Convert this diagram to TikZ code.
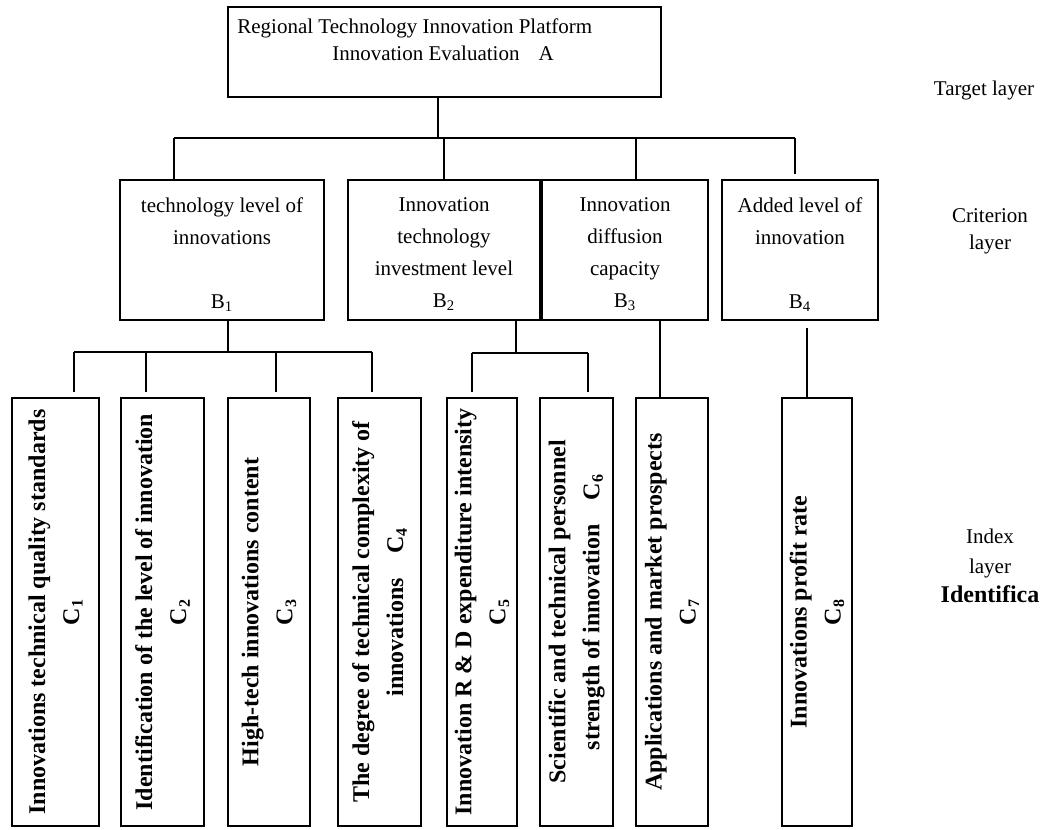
\documentclass[tikz,border=0pt]{standalone}
\usepackage{fontspec}
\setmainfont{Liberation Serif}
\begin{document}
\begin{tikzpicture}[x=0.5pt,y=-0.5pt,
  abox/.style={draw, line width=1pt, inner sep=0pt},
  bbox/.style={abox, minimum height=70pt},
  cbox/.style={abox, minimum height=214pt},
  txt/.style={font=\fontsize{10.5pt}{16pt}\selectfont, inner sep=0pt, align=center},
  lbl/.style={font=\fontsize{10.5pt}{13.5pt}\selectfont, inner sep=0pt, align=center},
  ctxt/.style={font=\fontsize{12pt}{17pt}\selectfont\bfseries, inner sep=0pt, align=center, rotate=90},
  lnk/.style={line width=0.9pt},
  gap/.style={lnk, shorten >=2.5pt}]
\useasboundingbox (0,0) rectangle (1050,830);

% target layer
\node[abox, minimum width=216.5pt, minimum height=45pt] (A) at (444.5,52) {};
\node[txt, anchor=base west] (a1) at (237,33) {Regional Technology Innovation Platform};
\node[txt, anchor=base] (a2) at (443,61) {Innovation Evaluation\hspace{9.5pt}A};

% criterion layer
\node[bbox, minimum width=102pt] (B1) at (222,250) {};
\node[bbox, minimum width=96pt]  (B2) at (444,250) {};
\node[bbox, minimum width=83pt]  (B3) at (625,250) {};
\node[bbox, minimum width=78pt]  (B4) at (800,250) {};
\node[txt, anchor=north] (b1t) at (222,197) {technology level of\\innovations\\[16pt]B\textsubscript{1}};
\node[txt, anchor=north] (b2t) at (444,197) {Innovation\\technology\\investment level\\B\textsubscript{2}};
\node[txt, anchor=north] (b3t) at (625,197) {Innovation\\diffusion\\capacity\\B\textsubscript{3}};
\node[txt, anchor=north] (b4t) at (800,197) {Added level of\\innovation\\[16pt]B\textsubscript{4}};

% index layer
\node[cbox, minimum width=43.5pt] (C1) at (55.5,612) {};
\node[cbox, minimum width=41.5pt] (C2) at (162.5,612) {};
\node[cbox, minimum width=41pt]   (C3) at (269,612) {};
\node[cbox, minimum width=41.5pt] (C4) at (379.5,612) {};
\node[cbox, minimum width=35pt]   (C5) at (482,612) {};
\node[cbox, minimum width=36.5pt] (C6) at (576.5,612) {};
\node[cbox, minimum width=36pt]   (C7) at (672,612) {};
\node[cbox, minimum width=35pt]   (C8) at (817,612) {};
\node[ctxt] (c1t) at (C1.center) {Innovations technical quality standards\\C\textsubscript{1}};
\node[ctxt] (c2t) at (C2.center) {Identification of the level of innovation\\C\textsubscript{2}};
\node[ctxt] (c3t) at (C3.center) {High-tech innovations content\\C\textsubscript{3}};
\node[ctxt] (c4t) at (C4.center) {The degree of technical complexity of\\innovations\hspace{1em}C\textsubscript{4}};
\node[ctxt] (c5t) at (C5.center) {Innovation R \& D expenditure intensity\\C\textsubscript{5}};
\node[ctxt] (c6t) at (C6.center) {Scientific and technical personnel\\strength of innovation\hspace{1em}C\textsubscript{6}};
\node[ctxt] (c7t) at (C7.center) {Applications and market prospects\\C\textsubscript{7}};
\node[ctxt] (c8t) at (C8.center) {Innovations profit rate\\C\textsubscript{8}};

% layer labels
\node[lbl, anchor=base] (tl) at (984,95) {Target layer};
\node[lbl, anchor=north] (cl) at (990,208) {Criterion\\layer};
\node[lbl, anchor=north, font=\fontsize{10.5pt}{14.75pt}\selectfont] (il) at (990,529)
  {Index\\layer\\{\bfseries\fontsize{12pt}{14.75pt}\selectfont Identifica}};

% connectors A -> B
\coordinate (ja) at (438,138);
\coordinate (h1l) at (174,138);
\coordinate (h1r) at (795,138);
\coordinate (hb2) at (444,138);
\coordinate (hb3) at (636,138);
\draw[lnk] (A.south -| ja) -- (ja);
\draw[lnk] (h1l) -- (h1r);
\draw[lnk] (h1l) -- (h1l |- B1.north);
\draw[lnk] (hb2) -- (hb2 |- B2.north);
\draw[lnk] (hb3) -- (hb3 |- B3.north);
\draw[gap] (h1r) -- (h1r |- B4.north);

% B1 -> C1..C4
\coordinate (j1) at (228,352);
\coordinate (j1a) at (74,352);
\coordinate (j1b) at (146,352);
\coordinate (j1c) at (276,352);
\coordinate (j1d) at (372,352);
\draw[lnk] (j1 |- B1.south) -- (j1);
\draw[lnk] (j1a) -- (j1d);
\draw[gap] (j1a) -- (j1a |- C1.north);
\draw[gap] (j1b) -- (j1b |- C2.north);
\draw[gap] (j1c) -- (j1c |- C3.north);
\draw[gap] (j1d) -- (j1d |- C4.north);

% B2 -> C5, C6
\coordinate (j2) at (516,353);
\coordinate (j2a) at (472,353);
\coordinate (j2b) at (588,353);
\draw[lnk] (j2 |- B2.south) -- (j2);
\draw[lnk] (j2a) -- (j2b);
\draw[gap] (j2a) -- (j2a |- C5.north);
\draw[gap] (j2b) -- (j2b |- C6.north);

% B3 -> C7, B4 -> C8
\coordinate (j3) at (660,320);
\coordinate (j4) at (807,328);
\draw[lnk] (j3 |- B3.south) -- (j3 |- C7.north);
\draw[lnk] (j4) -- (j4 |- C8.north);
\end{tikzpicture}
\end{document}
